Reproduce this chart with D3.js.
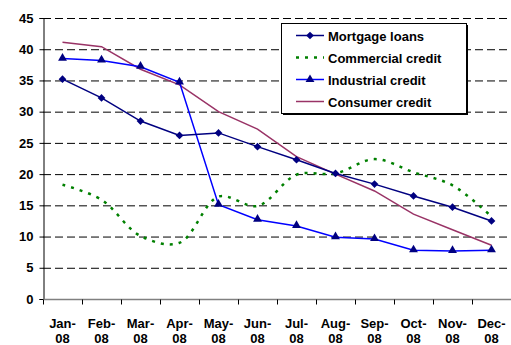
<!DOCTYPE html>
<html>
<head>
<meta charset="utf-8">
<script src="https://cdn.jsdelivr.net/npm/d3@7"></script>
<style>
  body { margin: 0; background: #fff; }
  text { font-family: "Liberation Sans", Arial, sans-serif; font-weight: bold; }
</style>
</head>
<body>
<div id="chart"></div>
<script>
// month labels (two lines each)
const months = ["Jan", "Feb", "Mar", "Apr", "May", "Jun", "Jul", "Aug", "Sep", "Oct", "Nov", "Dec"];
const yearLabel = "08";
const yTicks = [0, 5, 10, 15, 20, 25, 30, 35, 40, 45];

// series
const mortgage = [35.2, 32.2, 28.5, 26.2, 26.6, 24.4, 22.3, 20.1, 18.4, 16.5, 14.7, 12.5];
const commercial = [18.3, 15.9, 10.1, 9.0, 16.4, 14.9, 19.9, 20.1, 22.4, 20.3, 18.2, 13.2];
const industrial = [38.5, 38.2, 37.2, 34.7, 15.1, 12.7, 11.7, 9.9, 9.6, 7.8, 7.7, 7.8];
const consumer = [41.1, 40.4, 36.8, 34.3, 30.0, 27.2, 22.8, 20.0, 17.3, 13.6, 11.1, 8.6];

Chart();

function Chart() {
  const margin = { top: 18, right: 0, bottom: 46, left: 43 };
  const width = 511 - margin.left - margin.right;
  const height = 345 - margin.top - margin.bottom;

  const svg = d3
    .select("#chart")
    .append("svg")
    .attr("width", 511)
    .attr("height", 345)
    .append("g")
    .attr("transform", "translate(" + margin.left + "," + margin.top + ")");

  const xScale = d3.scaleBand().domain(months).range([0, width]);
  const yScale = d3.scaleLinear().domain([0, 45]).range([height, 0]);
  const cx = (d, i) => xScale(months[i]) + xScale.bandwidth() / 2;

  // dashed gridlines
  svg
    .selectAll(".grid")
    .data(yTicks.filter((t) => t > 0))
    .enter()
    .append("line")
    .attr("x1", 0)
    .attr("x2", width)
    .attr("y1", (d) => yScale(d) + 0.5)
    .attr("y2", (d) => yScale(d) + 0.5)
    .attr("stroke", "#000")
    .attr("stroke-dasharray", "8,4");

  // y axis
  const yAxis = svg
    .append("g")
    .attr("transform", "translate(0.5,0)")
    .call(d3.axisLeft(yScale).tickValues(yTicks).tickSize(4).tickPadding(6));
  yAxis.select(".domain").attr("stroke", "#000");
  yAxis.selectAll("text").style("font-size", "13px").attr("fill", "#000");

  // x axis
  const xAxis = svg
    .append("g")
    .attr("transform", "translate(0," + (height + 0.5) + ")");
  xAxis
    .append("line")
    .attr("x1", 0)
    .attr("x2", width)
    .attr("stroke", "#808080")
    .attr("stroke-width", 1.5);
  xAxis
    .selectAll(".tick")
    .data(months)
    .enter()
    .append("line")
    .attr("x1", (d) => xScale(d) + 0.5)
    .attr("x2", (d) => xScale(d) + 0.5)
    .attr("y1", 0)
    .attr("y2", 5)
    .attr("stroke", "#000");
  const lab = xAxis
    .selectAll(".lab")
    .data(months)
    .enter()
    .append("text")
    .attr("text-anchor", "middle")
    .style("font-size", "13px")
    .attr("x", (d) => xScale(d) + xScale.bandwidth() / 2);
  lab.append("tspan").attr("y", 28).text((d) => d + "-");
  lab
    .append("tspan")
    .attr("x", (d) => xScale(d) + xScale.bandwidth() / 2)
    .attr("y", 43)
    .text(yearLabel);

  const straight = d3.line().x(cx).y((d) => yScale(d));
  const smooth = d3.line().curve(d3.curveCatmullRom).x(cx).y((d) => yScale(d));

  // commercial credit (dotted green)
  svg
    .append("path")
    .datum(commercial)
    .attr("d", smooth)
    .attr("fill", "none")
    .attr("stroke", "#008000")
    .attr("stroke-width", 2.5)
    .attr("stroke-dasharray", "3,6");

  // consumer credit
  svg
    .append("path")
    .datum(consumer)
    .attr("d", straight)
    .attr("fill", "none")
    .attr("stroke", "#993366")
    .attr("stroke-width", 1.5);

  // industrial credit
  svg
    .append("path")
    .datum(industrial)
    .attr("d", straight)
    .attr("fill", "none")
    .attr("stroke", "#0000ff")
    .attr("stroke-width", 1.5);

  // mortgage loans
  svg
    .append("path")
    .datum(mortgage)
    .attr("d", straight)
    .attr("fill", "none")
    .attr("stroke", "#000080")
    .attr("stroke-width", 1.5);

  // diamond = square turned 45 degrees
  const diamond = d3.symbol().type(d3.symbolSquare).size(30);
  const triangle = d3.symbol().type(d3.symbolTriangle).size(34);

  svg
    .selectAll(".mk-m")
    .data(mortgage)
    .enter()
    .append("path")
    .attr("d", diamond)
    .attr("fill", "#000080")
    .attr("transform", (d, i) => "translate(" + cx(d, i) + "," + yScale(d) + ") rotate(45)");

  svg
    .selectAll(".mk-i")
    .data(industrial)
    .enter()
    .append("path")
    .attr("d", triangle)
    .attr("fill", "#000080")
    .attr("transform", (d, i) => "translate(" + cx(d, i) + "," + (yScale(d) - 0.5) + ")");

  // legend
  const lx = 281 - margin.left;
  const ly = 23 - margin.top;
  const legend = svg.append("g").attr("transform", "translate(" + lx + "," + ly + ")");
  legend
    .append("rect")
    .attr("x", 2)
    .attr("y", 2)
    .attr("width", 185)
    .attr("height", 90)
    .attr("fill", "#000");
  legend
    .append("rect")
    .attr("x", 0.5)
    .attr("y", 0.5)
    .attr("width", 185)
    .attr("height", 90)
    .attr("fill", "#fff")
    .attr("stroke", "#000");

  const entries = [
    { name: "Mortgage loans", color: "#000080", dash: null, width: 1.5, mark: diamond, rot: 45 },
    { name: "Commercial credit", color: "#008000", dash: "3,6", width: 2.5, mark: null },
    { name: "Industrial credit", color: "#0000ff", dash: null, width: 1.5, mark: triangle, rot: 0 },
    { name: "Consumer credit", color: "#993366", dash: null, width: 1.5, mark: null },
  ];
  entries.forEach((e, i) => {
    const y = 12.5 + i * 22;
    legend
      .append("line")
      .attr("x1", 15)
      .attr("x2", 43)
      .attr("y1", y)
      .attr("y2", y)
      .attr("stroke", e.color)
      .attr("stroke-width", e.width)
      .attr("stroke-dasharray", e.dash);
    if (e.mark) {
      legend
        .append("path")
        .attr("d", e.mark)
        .attr("fill", "#000080")
        .attr("transform", "translate(29," + y + ") rotate(" + e.rot + ")");
    }
    legend
      .append("text")
      .attr("x", 47)
      .attr("y", y + 5)
      .style("font-size", "13px")
      .text(e.name);
  });
}
</script>
</body>
</html>
